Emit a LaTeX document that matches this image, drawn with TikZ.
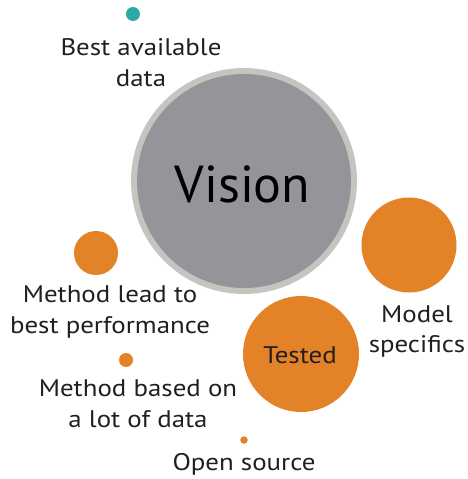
\documentclass[tikz,border=0pt]{standalone}
\usepackage{fontspec}
\setmainfont{PT Sans}
\newfontfamily\lblfont[FakeStretch=1.12]{PT Sans}
\definecolor{orng}{HTML}{E38227}
\definecolor{tealdot}{HTML}{2BAAA5}
\definecolor{ringgrey}{HTML}{C4C5BF}
\definecolor{coregrey}{HTML}{949599}
\definecolor{txt}{HTML}{231F20}
\begin{document}
\begin{tikzpicture}[x=1pt,y=-1pt,
  bubble/.style={circle,fill=orng,inner sep=0pt,minimum size=#1},
  lbl/.style={text=txt,align=center,inner sep=0pt,anchor=base,font=\lblfont\fontsize{24}{30.5}\selectfont}]
\useasboundingbox (0,0) rectangle (467,479);
\node[circle,fill=ringgrey,inner sep=0pt,minimum size=226pt] (ring) at (244,181) {};
\node[circle,fill=coregrey,inner sep=0pt,minimum size=214pt] (core) at (244,181) {};
\node[anchor=base,inner sep=0pt,text=black,font=\fontsize{52}{52}\selectfont] (vision) at (242.5,202) {Vision};
\node[circle,fill=tealdot,inner sep=0pt,minimum size=14pt] (teal) at (133,14) {};
\node[bubble=44pt] (lead) at (96,253) {};
\node[bubble=95pt] (model) at (409,245) {};
\node[bubble=116pt] (tested) at (301,354) {};
\node[bubble=14pt] (based) at (126,360) {};
\node[bubble=7.5pt] (open) at (244,440) {};
\node[lbl] (tbest) at (141,86) {Best available\\data};
\node[lbl] (tlead) at (110,333) {Method lead to\\best performance};
\node[lbl] (tmodel) at (417,352.5) {Model\\specifics};
\node[lbl] (tbased) at (138,427) {Method based on\\a lot of data};
\node[lbl] (topen) at (244,470) {Open source};
\node[lbl] (ttested) at (300,363) {Tested};
\end{tikzpicture}
\end{document}
